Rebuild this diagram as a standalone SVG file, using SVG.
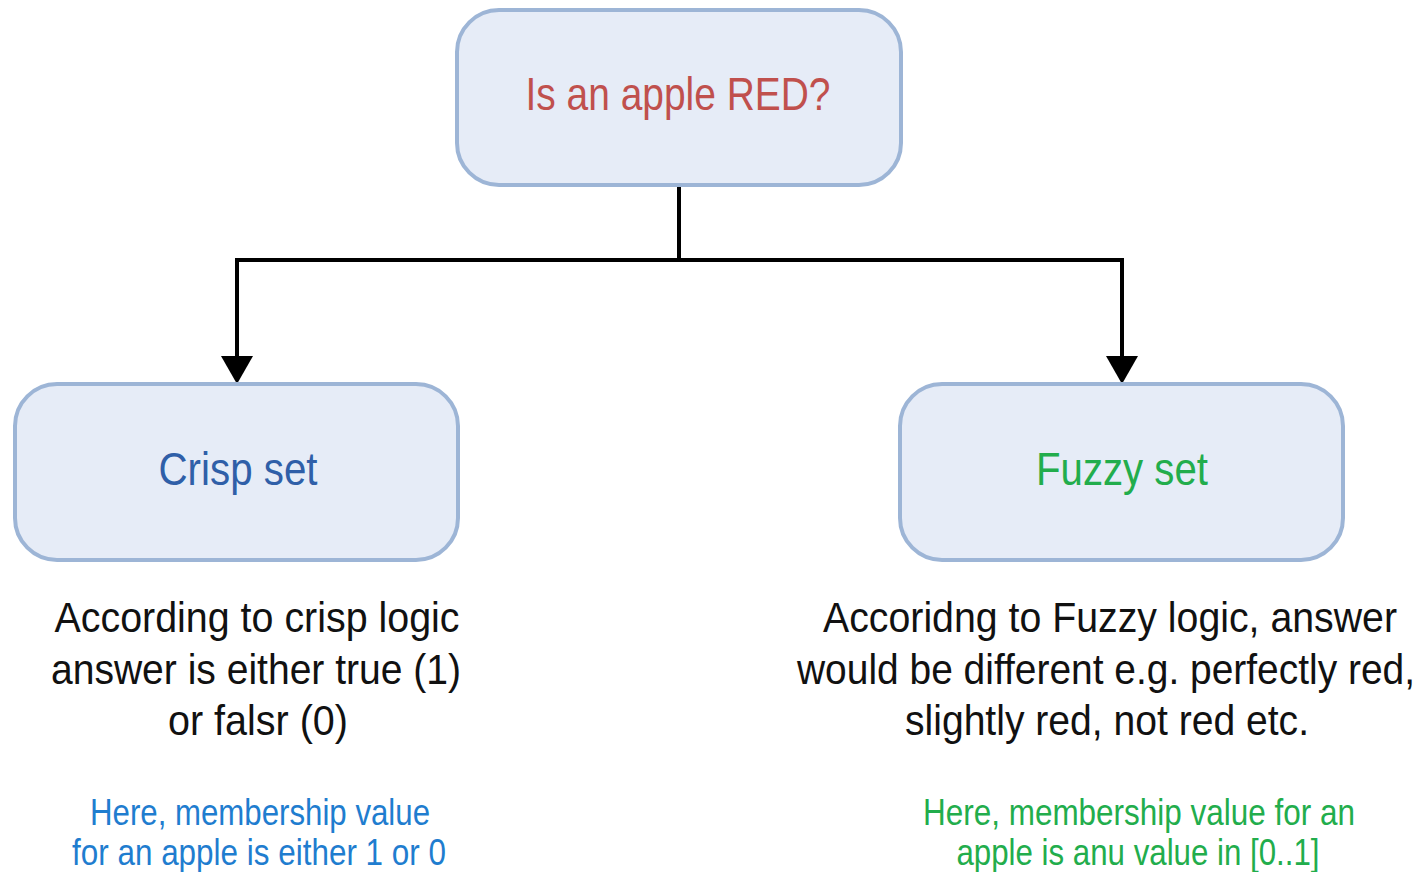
<svg xmlns="http://www.w3.org/2000/svg" width="1427" height="872" viewBox="0 0 1427 872">
<defs>
<style>
.box{fill:#e6ecf7;stroke:#9db5d6;stroke-width:4}
text{font-family:"Liberation Sans",Arial,sans-serif;text-anchor:middle}
.big{font-size:46px}
.body{font-size:43px;fill:#111}
.note{font-size:37px}
.conn{fill:none;stroke:#000;stroke-width:4}
</style>
<marker id="arr" markerWidth="8" markerHeight="8" refX="0" refY="4" orient="auto" markerUnits="strokeWidth">
<path d="M0,0 L7,4 L0,8 Z" fill="#000"/>
</marker>
</defs>
<rect width="1427" height="872" fill="#fff"/>
<g id="connectors">
<path class="conn" d="M679,185 V260 H237 V356" marker-end="url(#arr)"/>
<path class="conn" d="M679,260 H1122 V356" marker-end="url(#arr)"/>
</g>
<g id="node-red">
<rect class="box" x="457" y="10" width="444" height="175" rx="42"/>
<text class="big" x="678" y="110" fill="#c0504d" textLength="305" lengthAdjust="spacingAndGlyphs">Is an apple RED?</text>
</g>
<g id="node-crisp">
<rect class="box" x="15" y="384" width="443" height="176" rx="42"/>
<text class="big" x="238" y="485" fill="#2f5fa8" textLength="159" lengthAdjust="spacingAndGlyphs">Crisp set</text>
</g>
<g id="node-fuzzy">
<rect class="box" x="900" y="384" width="443" height="176" rx="42"/>
<text class="big" x="1122" y="485" fill="#22ad4c" textLength="172" lengthAdjust="spacingAndGlyphs">Fuzzy set</text>
</g>
<g id="crisp-desc">
<text class="body" x="257" y="632" textLength="405" lengthAdjust="spacingAndGlyphs">According to crisp logic</text>
<text class="body" x="256" y="684" textLength="410" lengthAdjust="spacingAndGlyphs">answer is either true (1)</text>
<text class="body" x="258" y="735" textLength="180" lengthAdjust="spacingAndGlyphs">or falsr (0)</text>
</g>
<g id="crisp-note">
<text class="note" x="260" y="825" fill="#1f7dcf" textLength="340" lengthAdjust="spacingAndGlyphs">Here, membership value</text>
<text class="note" x="259" y="865" fill="#1f7dcf" textLength="374" lengthAdjust="spacingAndGlyphs">for an apple is either 1 or 0</text>
</g>
<g id="fuzzy-desc">
<text class="body" x="1110" y="632" textLength="574" lengthAdjust="spacingAndGlyphs">Accoridng to Fuzzy logic, answer</text>
<text class="body" x="1106" y="684" textLength="618" lengthAdjust="spacingAndGlyphs">would be different e.g. perfectly red,</text>
<text class="body" x="1107" y="735" textLength="404" lengthAdjust="spacingAndGlyphs">slightly red, not red etc.</text>
</g>
<g id="fuzzy-note">
<text class="note" x="1139" y="825" fill="#22ad4c" textLength="432" lengthAdjust="spacingAndGlyphs">Here, membership value for an</text>
<text class="note" x="1138" y="865" fill="#22ad4c" textLength="363" lengthAdjust="spacingAndGlyphs">apple is anu value in [0..1]</text>
</g>
</svg>
